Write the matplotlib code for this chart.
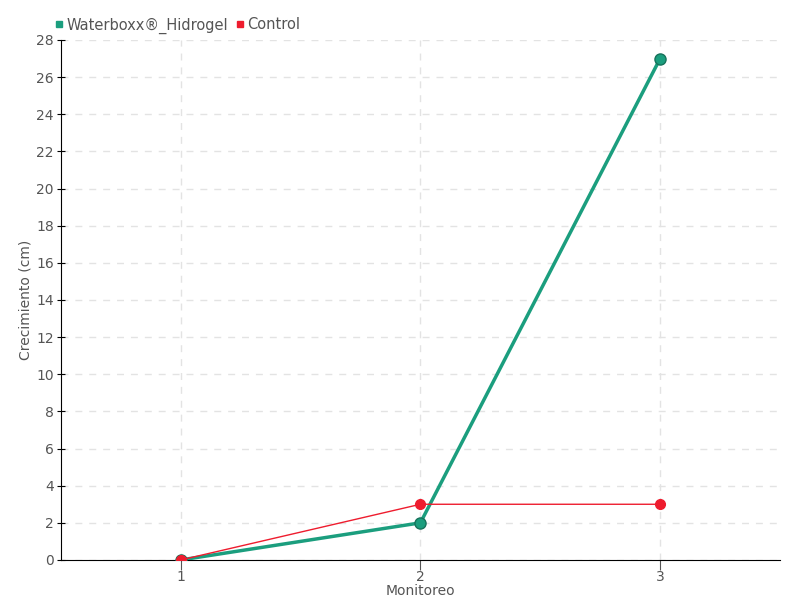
import matplotlib.pyplot as plt
from matplotlib.lines import Line2D

monitoreo = [1, 2, 3]
waterboxx = [0, 2, 27]
control = [0, 3, 3]

green = '#1b9e7e'
red = '#ee1c2e'
gris = '#555555'

fig = plt.figure(figsize=(8, 6), dpi=100)
ax = fig.add_axes([0.076, 0.0667, 0.899, 0.8667])

ax.plot(monitoreo, waterboxx, color=green, lw=2.5, marker='o', markersize=8,
        markerfacecolor=green, markeredgecolor='#16725b', zorder=3)
ax.plot(monitoreo, control, color=red, lw=1, marker='o', markersize=7,
        markerfacecolor=red, markeredgecolor=red, zorder=4)

ax.set_xlim(0.5, 3.5)
ax.set_ylim(0, 28)
ax.set_xticks(monitoreo)
ax.set_yticks(range(0, 29, 2))
ax.grid(True, linestyle=(0, (5, 5)), color='#e3e3e3', lw=1)
ax.set_axisbelow(True)
for s in ['top', 'right']:
    ax.spines[s].set_visible(False)
ax.tick_params(axis='y', direction='inout', length=6, labelsize=10, labelcolor=gris, pad=2)
ax.tick_params(axis='x', direction='out', length=7, color=gris, labelsize=10, labelcolor=gris, pad=0)

ax.set_xlabel('Monitoreo', color=gris, fontsize=10, labelpad=0)
ax.set_ylabel('Crecimiento (cm)', color=gris, fontsize=10, labelpad=0)
ax.yaxis.set_label_coords(-0.04, 0.5)

handles = [Line2D([], [], color=green, marker='s', linestyle='', markersize=5),
           Line2D([], [], color=red, marker='s', linestyle='', markersize=5)]
fig.legend(handles, ['Waterboxx®_Hidrogel', 'Control'], loc='upper left',
           bbox_to_anchor=(0.052, 0.993), ncol=2, frameon=False, fontsize=10.5,
           labelcolor=gris, handlelength=0.6, handletextpad=0.2, columnspacing=0.5)

fig.savefig('out.png', dpi=100)
